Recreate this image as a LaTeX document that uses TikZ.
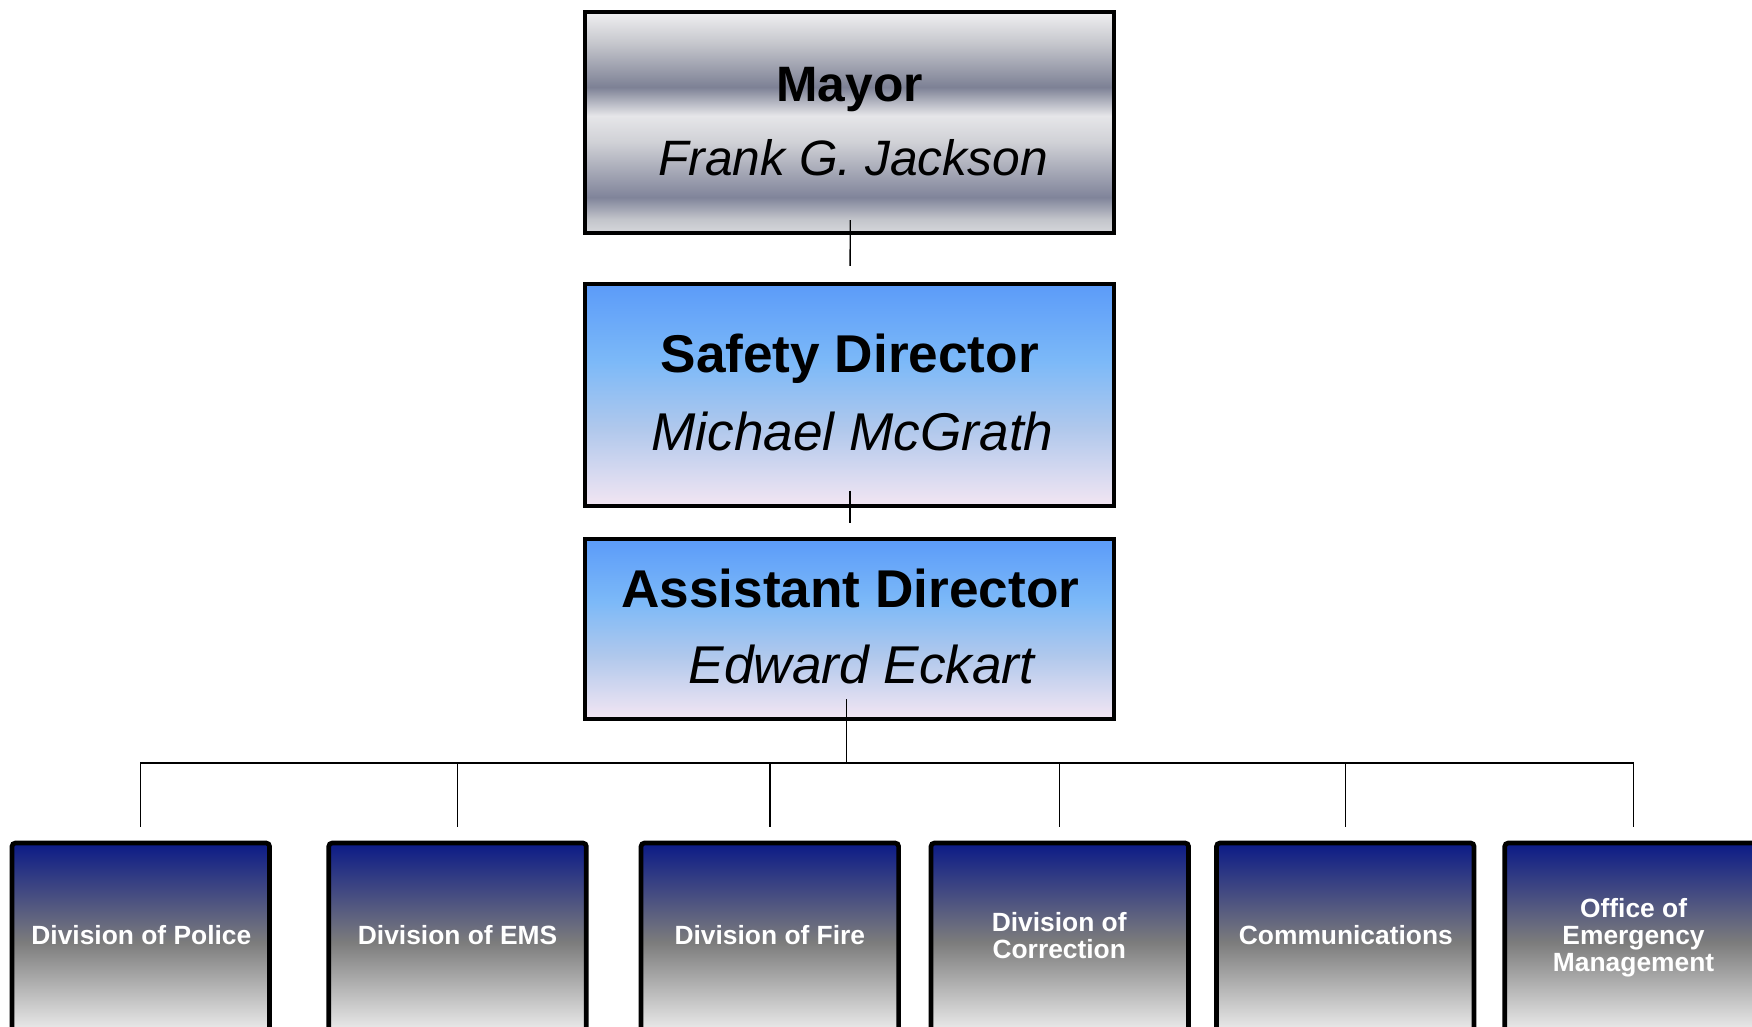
\documentclass[tikz,border=0pt]{standalone}
\usepackage{fontspec}
\setmainfont{Liberation Sans}
\usetikzlibrary{calc}
\definecolor{mc1}{HTML}{F0F0F1}
\definecolor{mc2}{HTML}{C6C7CD}
\definecolor{mc3}{HTML}{7D8195}
\definecolor{mc4}{HTML}{E6E6E9}
\definecolor{mc5}{HTML}{D0D1D6}
\definecolor{mc6}{HTML}{80849A}
\definecolor{mc7}{HTML}{C3C5CB}
\definecolor{mc8}{HTML}{D6D7DB}
\definecolor{bl1}{HTML}{5B9BF9}
\definecolor{bl2}{HTML}{7CB9F8}
\definecolor{bl3}{HTML}{B0C8EC}
\definecolor{bl4}{HTML}{F3E6F3}
\definecolor{navy}{HTML}{0B1A87}
\definecolor{midgray}{HTML}{7C7C7C}
\definecolor{lightend}{HTML}{F8F8F8}
\pgfdeclareverticalshading{mayorshade}{100bp}{color(0bp)=(mc8); color(25bp)=(mc8); color(28bp)=(mc7); color(33bp)=(mc6); color(45.5bp)=(mc5); color(51.5bp)=(mc4); color(58bp)=(mc3); color(68bp)=(mc2); color(75bp)=(mc1); color(100bp)=(mc1)}
\pgfdeclareverticalshading{blueshade}{100bp}{color(0bp)=(bl4); color(25bp)=(bl4); color(42.5bp)=(bl3); color(57.5bp)=(bl2); color(75bp)=(bl1); color(100bp)=(bl1)}
\newcommand\mystack[1]{\begin{tabular}[t]{@{}c@{}}#1\end{tabular}}
\begin{document}
\begin{tikzpicture}[x=0.5pt,y=-0.5pt,
  box/.style={rectangle, draw=black, line width=1.8pt, inner sep=0pt, outer sep=0pt, minimum width=236.7pt},
  chrome/.style={box, shade, shading=mayorshade, minimum height=98.7pt},
  bluebox/.style={box, shade, shading=blueshade},
  divbox/.style={rectangle, draw=black, line width=2.1pt, inner sep=0pt, outer sep=0pt, minimum width=115.25pt, minimum height=88.75pt, rounded corners=1.5pt, top color=navy, bottom color=lightend, middle color=midgray},
  conn/.style={draw=black, line width=0.6pt},
  titletext/.style={anchor=base, inner sep=0pt, font=\bfseries\fontsize{23.8}{28}\selectfont},
  nametext/.style={anchor=base, inner sep=0pt, font=\itshape\fontsize{23.8}{28}\selectfont},
  divtext/.style={anchor=base, inner sep=0pt, text=white, font=\bfseries\fontsize{11.8}{12}\selectfont}
]
\useasboundingbox (0,0) rectangle (1568,919);
\clip (0,0) rectangle (1568,919);

% boxes
\node[chrome] (mayor) at (760.5,109.5) {};
\node[bluebox, minimum height=99.7pt] (safety) at (760.3,353.5) {};
\node[bluebox, minimum height=80.55pt] (asst) at (760.3,562.7) {};
\node[divbox] (police) at (126,843.25) {};
\node[divbox] (ems) at (409.5,843.25) {};
\node[divbox] (fire) at (689,843.25) {};
\node[divbox] (correction) at (948.5,843.25) {};
\node[divbox] (comm) at (1204,843.25) {};
\node[divbox] (oem) at (1462,843.25) {};

% texts
\node[titletext, font=\bfseries\fontsize{22.25}{26}\selectfont] (mayorT) at (760.5,91) {Mayor};
\node[nametext, font=\itshape\fontsize{22.25}{26}\selectfont] (mayorN) at (763.5,157) {Frank G. Jackson};
\node[titletext] (safetyT) at (760.5,333.5) {Safety Director};
\node[nametext] (safetyN) at (763,403) {Michael McGrath};
\node[titletext] (asstT) at (761,543.6) {Assistant Director};
\node[nametext] (asstN) at (771,611.6) {Edward Eckart};

\node[divtext] (policeT) at (126.5,845.5) {Division of Police};
\node[divtext] (emsT) at (409.5,845.5) {Division of EMS};
\node[divtext] (fireT) at (689,845.5) {Division of Fire};
\node[divtext] (corrT) at (948,833.9) {\mystack{Division of\\Correction}};
\node[divtext] (commT) at (1204.5,845.5) {Communications};
\node[divtext] (oemT) at (1462,821.5) {\mystack{Office of\\Emergency\\Management}};

% connectors
\draw[conn] ([xshift=0.25pt,yshift=5.6pt]mayor.south) -- ([xshift=0.25pt,yshift=7.9pt]safety.north);
\draw[conn] ([xshift=0.25pt,yshift=7pt]safety.south) -- ([xshift=0.25pt,yshift=7.15pt]asst.north);
\coordinate (bus) at (757.5,683);
\draw[conn] ([xshift=-1.4pt,yshift=8.8pt]asst.south) -- (bus);
\foreach \c in {police,ems,fire,correction,comm,oem}
  \draw[conn] (bus) -| ([yshift=7.25pt]\c.north);
\end{tikzpicture}
\end{document}
